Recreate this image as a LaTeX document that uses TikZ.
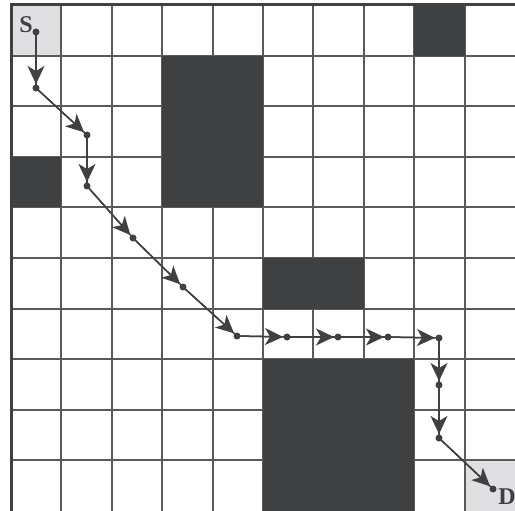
\documentclass[tikz,border=0pt]{standalone}
\usepackage{fontspec}
\setmainfont{Liberation Serif}
\usetikzlibrary{arrows.meta}
\definecolor{darkcell}{HTML}{3F4042}
\definecolor{gridgray}{HTML}{5A5A5A}
\definecolor{lightcell}{HTML}{E0E0E2}
\tikzset{
  dot/.style={circle,fill=darkcell,inner sep=0pt,minimum size=7pt},
  hopline/.style={draw=darkcell,line width=1.5pt},
  hoptip/.style={draw=darkcell,line width=1.5pt,shorten >=4pt,
    -{Stealth[length=18pt,width=17pt,inset=5pt]}},
  lbl/.style={font=\fontsize{24}{24}\selectfont\bfseries,text=darkcell,inner sep=0pt}
}
\begin{document}
\begin{tikzpicture}[x=1pt,y=-1pt]
\useasboundingbox (0,0) rectangle (515,511);
\fill[white] (0,0) rectangle (515,511);
\def\cx#1{11+50.4*#1}
\def\cy#1{5+50.6*#1}
% light cells
\fill[lightcell] ({\cx0},{\cy0}) rectangle ({\cx1},{\cy1});
\fill[lightcell] ({\cx9},{\cy9}) rectangle ({\cx{10}},{\cy{10}});
% grid
\foreach \i in {1,...,9} {
  \draw[gridgray,line width=2pt] ({\cx\i},{\cy0}) -- ({\cx\i},{\cy{10}});
  \draw[gridgray,line width=2pt] ({\cx0},{\cy\i}) -- ({\cx{10}},{\cy\i});
}
% dark cells
\fill[darkcell] ({\cx8},{\cy0}) rectangle ({\cx9},{\cy1});
\fill[darkcell] ({\cx3},{\cy1}) rectangle ({\cx5},{\cy4});
\fill[darkcell] ({\cx0},{\cy3}) rectangle ({\cx1},{\cy4});
\fill[darkcell] ({\cx5},{\cy5}) rectangle ({\cx7},{\cy6});
\fill[darkcell] ({\cx5},{\cy7}) rectangle ({\cx8},{\cy{10}});
% frame
\draw[darkcell,line width=3pt] ({\cx0},{\cy{10}+2}) -- ({\cx0},{\cy0}) -- ({\cx{10}+2},{\cy0});
% labels
\node[lbl] (S) at (26,24.5) {S};
\node[lbl] (D) at (507,497) {D};
% path dots
\node[dot] (p1) at (36,32) {};
\node[dot] (p2) at (36,88) {};
\node[dot] (p3) at (87,135) {};
\node[dot] (p4) at (87,186) {};
\node[dot] (p5) at (133,238) {};
\node[dot] (p6) at (183,287) {};
\node[dot] (p7) at (237,336) {};
\node[dot] (p8) at (287,337) {};
\node[dot] (p9) at (338,337) {};
\node[dot] (p10) at (388,337) {};
\node[dot] (p11) at (439,338) {};
\node[dot] (p12) at (439,385) {};
\node[dot] (p13) at (439,438) {};
\node[dot] (p14) at (493,489) {};
\foreach \a/\b in {p1/p2,p2/p3,p3/p4,p4/p5,p5/p6,p6/p7,p7/p8,p8/p9,p9/p10,p10/p11,p11/p12,p12/p13,p13/p14} {
  \draw[hopline] (\a.center) -- (\b.center);
  \draw[hoptip] (\a.center) -- (\b.center);
}
\end{tikzpicture}
\end{document}
